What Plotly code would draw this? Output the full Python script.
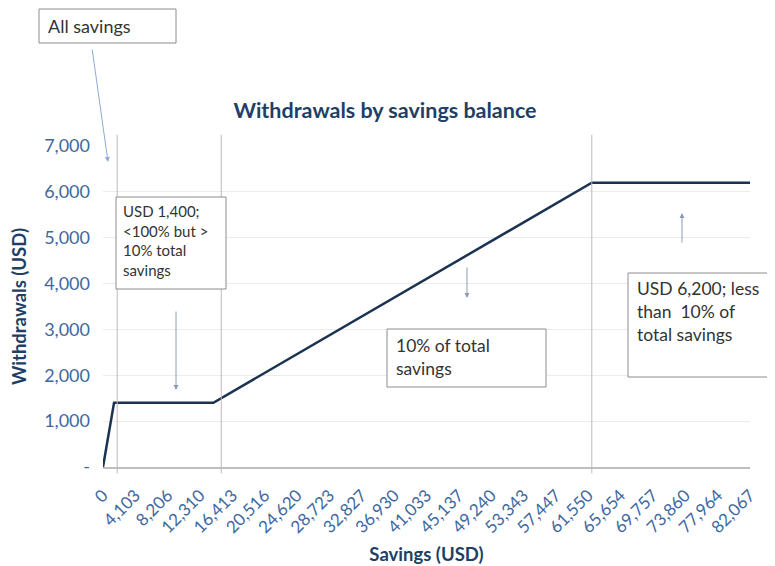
import plotly.graph_objects as go

# ---- data ----
savings = [0, 1400, 14000, 62000, 82067]
withdrawals = [0, 1400, 1400, 6200, 6200]

x_tick_values = [0, 4103, 8206, 12310, 16413, 20516, 24620, 28723, 32827, 36930,
                 41033, 45137, 49240, 53343, 57447, 61550, 65654, 69757, 73860,
                 77964, 82067]
x_tick_labels = ["0", "4,103", "8,206", "12,310", "16,413", "20,516", "24,620",
                 "28,723", "32,827", "36,930", "41,033", "45,137", "49,240",
                 "53,343", "57,447", "61,550", "65,654", "69,757", "73,860",
                 "77,964", "82,067"]
y_tick_values = [0, 1000, 2000, 3000, 4000, 5000, 6000, 7000]
y_tick_labels = ["-", "1,000", "2,000", "3,000", "4,000", "5,000", "6,000", "7,000"]

divider_savings = [1800, 15000, 62000]

FONT = "Lato"
NAVY = "#213f66"
TICK = "#4068a0"

# page offset (browser default body margin)
O = 8
# plot area in page pixels
L, R, T, B = 103, 750, 146, 467
PW, PH = 775, 566
W, H = PW - O, PH - O


def px(x):
    return (x - L) / (R - L)


def py(y):
    return (B - y) / (B - T)


fig = go.Figure()
fig.add_trace(go.Scatter(x=savings, y=withdrawals, mode="lines",
                         line=dict(color="#1b3350", width=2.5),
                         hoverinfo="skip", showlegend=False))

shapes = []
for v in divider_savings:
    shapes.append(dict(type="line", xref="x", yref="paper", x0=v, x1=v,
                       y0=-0.02, y1=1.035,
                       line=dict(color="#c6b4bd", width=1)))

# annotation boxes (page-pixel rectangles)
boxes = [
    (39, 9, 176, 43),
    (116, 197, 226, 289),
    (387, 329, 546, 387),
    (628, 273, 780, 377),
]
for (x0, y0, x1, y1) in boxes:
    shapes.append(dict(type="rect", xref="paper", yref="paper",
                       x0=px(x0), x1=px(x1), y0=py(y1), y1=py(y0),
                       line=dict(color="#8c8c8c", width=1),
                       fillcolor="white", layer="above"))

annotations = []
texts = [
    ("All savings", 46, 13, 18),
    ("USD 1,400;<br><100% but ><br>10% total<br>savings", 121, 200, 15),
    ("10% of total<br>savings", 394, 333, 17.5),
    ("USD 6,200; less<br>than  10% of<br>total savings", 635, 276, 17.5),
]
for (t, x, y, fs) in texts:
    annotations.append(dict(text=t, xref="paper", yref="paper",
                            x=px(x), y=py(y), xanchor="left", yanchor="top",
                            align="left", showarrow=False,
                            font=dict(family=FONT, size=fs, color="#333333")))

arrows = [
    # (tail_x, tail_y, head_x, head_y, color)
    (92, 48, 108, 162, "#8eaad8"),
    (176, 310, 176, 390, "#8c9ab8"),
    (467, 266, 467, 298, "#8c9ab8"),
    (682, 244, 682, 213, "#8c9ab8"),
]
for (tx, ty, hx, hy, c) in arrows:
    annotations.append(dict(text="", xref="paper", yref="paper",
                            x=px(hx), y=py(hy), ax=tx - hx, ay=ty - hy,
                            showarrow=True, arrowhead=2, arrowsize=1,
                            arrowwidth=1, arrowcolor=c))

fig.update_layout(
    width=W, height=H,
    margin=dict(l=L - O, r=PW - R, t=T - O, b=PH - B),
    paper_bgcolor="white", plot_bgcolor="white",
    title=dict(text="<b>Withdrawals by savings balance</b>", xref="container",
               x=(385 - O) / W, xanchor="center", y=1 - (110 - O) / H,
               yanchor="middle",
               font=dict(family=FONT, size=21.5, color=NAVY)),
    xaxis=dict(range=[0, 82067], tickmode="array", tickvals=x_tick_values,
               ticktext=x_tick_labels, tickangle=-45, ticklabelstandoff=10,
               tickfont=dict(family=FONT, size=17, color=TICK),
               showgrid=False, zeroline=False, showline=True,
               linecolor="#bfbfbf", linewidth=1.5, automargin=False,
               title=dict(text="<b>Savings (USD)</b>", standoff=12,
                          font=dict(family=FONT, size=18.5, color=NAVY))),
    yaxis=dict(range=[0, 7000], tickmode="array", tickvals=y_tick_values,
               ticktext=y_tick_labels, ticklabelstandoff=12,
               tickfont=dict(family=FONT, size=18, color=TICK),
               showgrid=True, gridcolor="#ececec", gridwidth=1,
               zeroline=False, showline=False, automargin=False,
               title=dict(text="<b>Withdrawals (USD)</b>", standoff=14,
                          font=dict(family=FONT, size=18.5, color=NAVY))),
    shapes=shapes,
    annotations=annotations,
)

fig.write_html("out.html")
